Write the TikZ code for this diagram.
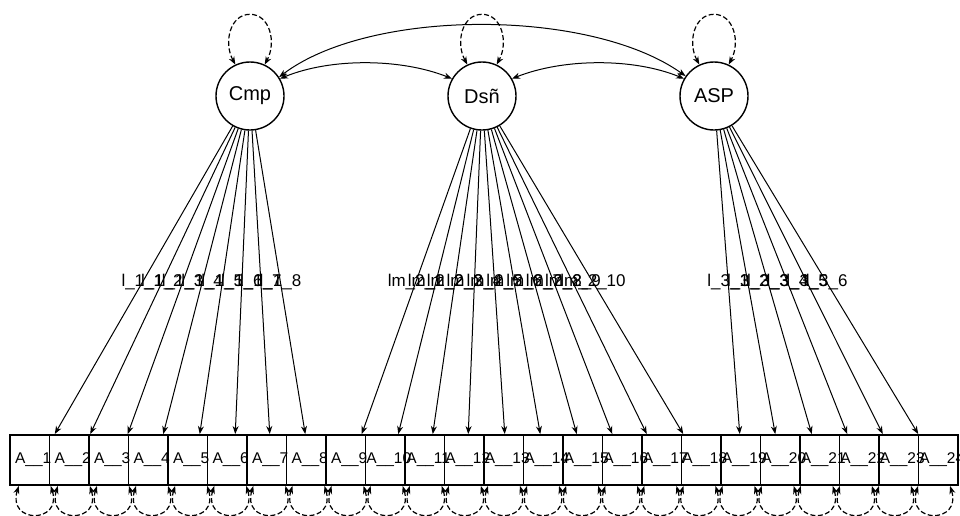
\documentclass[tikz,border=0pt]{standalone}
\usepackage{fontspec}
\setmainfont{Liberation Sans}
\usetikzlibrary{arrows.meta,calc}
\begin{document}
\begin{tikzpicture}[x=1pt,y=-1pt,
  latent/.style={draw,circle,line width=1.4pt,minimum size=68pt,inner sep=0pt,font=\fontsize{20}{22}\selectfont},
  obsbox/.style={draw,rectangle,line width=1.9pt,minimum width=39.5pt,minimum height=50pt,inner sep=0pt},
  boxtext/.style={inner sep=0pt,font=\fontsize{15.5}{17}\selectfont},
  loadlabel/.style={inner sep=0pt,font=\fontsize{17}{19}\selectfont},
  tip/.style={-{Stealth[length=8pt,width=6pt]}},
  both/.style={{Stealth[length=8pt,width=6pt]}-{Stealth[length=8pt,width=6pt]}},
  loading/.style={tip,line width=1pt},
  cov/.style={both,line width=1pt},
  selfloop/.style={both,line width=1.2pt,dashed,dash pattern=on 5pt off 2.5pt}]
\useasboundingbox (0,0) rectangle (960,515);
% latent variables
\node[latent] (C) at (250,96) {Cmp};
\node[latent] (D) at (482,96) {Dsñ};
\node[latent] (P) at (714,96) {ASP};
% variance loops above circles
\foreach \n in {C,D,P}{
  \draw[selfloop] (\n.115) .. controls +(-12,-22) and +(-20,0) .. ($(\n.north)+(0,-47)$)
                           .. controls +(20,0) and +(12,-22) .. (\n.65);
}
% covariances
\draw[cov] (C.30) .. controls (330,58) and (400,58) .. (D.150);
\draw[cov] (P.150) .. controls (634,58) and (564,58) .. (D.30);
\draw[cov] (C.33) .. controls (370,8) and (590,8) .. (P.145);
% observed boxes
\foreach \k in {1,...,24}{
  \node[obsbox] (b\k) at ({10+39.5*(\k-0.5)},460) {};
}
\foreach \k in {1,...,24}{
  \node[boxtext] (t\k) at ($(b\k.center)+(3.5,0)$) {A\_\_\k};
  \pgfmathsetmacro{\off}{5-0.4*(\k-1)}
  \draw[selfloop] ($(b\k.south)+(\off-16,0)$) .. controls +(-12,38) and +(12,38) .. ($(b\k.south)+(\off+16,0)$);
}
% loadings: box, source, offset of tip from box top centre, label
\foreach \k/\s/\d/\lab in {
  1/C/25/l\_1\_1, 2/C/21/l\_1\_2, 3/C/19/l\_1\_3, 4/C/15/l\_1\_4,
  5/C/12/l\_1\_5, 6/C/8/l\_1\_6, 7/C/3/l\_1\_7, 8/C/-1/l\_1\_8,
  9/D/16/lm\_2\_1, 10/D/13/lm\_2\_2, 11/D/8/lm\_2\_3, 12/D/4/lm\_2\_4,
  13/D/1/lm\_2\_5, 14/D/-3/lm\_2\_6, 15/D/-6/lm\_2\_7, 16/D/-10/lm\_2\_8,
  17/D/-15/lm\_2\_9, 18/D/-18/lm\_2\_10,
  19/P/-1/l\_3\_1, 20/P/-5/l\_3\_2, 21/P/-8/l\_3\_3, 22/P/-12/l\_3\_4,
  23/P/-16/l\_3\_5, 24/P/-20/l\_3\_6}{
  \coordinate (e\k) at ($(b\k.north)+(\d,0)$);
  \draw[loading] (\s) -- (e\k);
  \node[loadlabel] (lab\k) at ($(\s.center)!0.5516!(e\k)$) {\lab};
}
\end{tikzpicture}
\end{document}
